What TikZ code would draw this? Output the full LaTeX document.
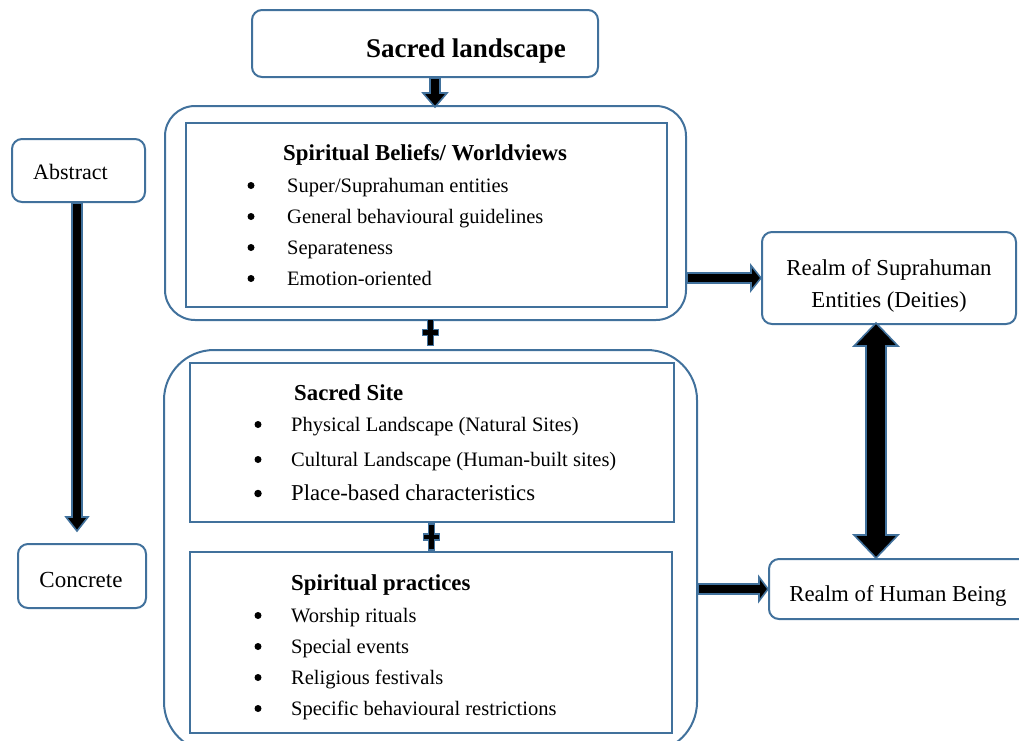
\documentclass[tikz,border=0pt]{standalone}
\usepackage{fontspec}
\setmainfont{Liberation Serif}
\usetikzlibrary{calc}
\definecolor{bc}{RGB}{65,113,156}
\newcommand\fsz[1]{\fontsize{#1}{#1}\selectfont}
\newcommand\blockarrow[5]{%
  \coordinate (ba-h) at ($(#2)!#5!(#1)$);
  \draw[blockst] ($(#1)!#3!90:(#2)$) -- ($(ba-h)!#3!90:(#2)$) -- ($(ba-h)!#4!90:(#2)$) -- (#2)
    -- ($(ba-h)!#4!-90:(#2)$) -- ($(ba-h)!#3!-90:(#2)$) -- ($(#1)!#3!-90:(#2)$) -- cycle;}
\newcommand\dblockarrow[5]{%
  \coordinate (da-a) at ($(#1)!#5!(#2)$);
  \coordinate (da-b) at ($(#2)!#5!(#1)$);
  \draw[blockst] (#1) -- ($(da-a)!#4!90:(#2)$) -- ($(da-a)!#3!90:(#2)$) -- ($(da-b)!#3!-90:(#1)$)
    -- ($(da-b)!#4!-90:(#1)$) -- (#2) -- ($(da-b)!#4!90:(#1)$) -- ($(da-b)!#3!90:(#1)$)
    -- ($(da-a)!#3!-90:(#2)$) -- ($(da-a)!#4!-90:(#2)$) -- cycle;}
\tikzset{
  box/.style={draw=bc, line width=2pt, rounded corners=#1, inner sep=0pt},
  box/.default=10pt,
  ibox/.style={draw=bc, line width=2pt, sharp corners, inner sep=0pt},
  blockst/.style={fill=black, draw=bc, line width=1.6pt, line join=miter},
  ttl/.style={anchor=base west, inner sep=0pt, font=\bfseries\fsz{22.8}},
  itm/.style={anchor=base west, inner sep=0pt, font=\fsz{20.5}},
  bul/.style={circle, fill=black, inner sep=0pt, minimum size=7pt, yshift=6.5pt},
  lbl/.style={anchor=base, inner sep=0pt, font=\fsz{22.8}},
}
\begin{document}
\begin{tikzpicture}[x=1pt,y=-1pt]
\useasboundingbox (0,0) rectangle (1019,740);
\clip (0,0) rectangle (1019,740);

% top box
\node[box, minimum width=346pt, minimum height=67pt] (top) at (425,43.5) {};
\node[anchor=base, inner sep=0pt, font=\bfseries\fsz{27}] (toptxt) at (466,57) {Sacred landscape};

% group 1
\node[box=30pt, minimum width=521pt, minimum height=214pt] (o1) at (425.5,213) {};
\node[ibox, minimum width=481pt, minimum height=184pt] (i1) at (426.5,215) {};
\node[ttl] (t1) at (283,160) {Spiritual Beliefs/ Worldviews};
\node[bul] (b11) at (251,192) {};
\node[bul] (b12) at (251,223) {};
\node[bul] (b13) at (251,254) {};
\node[bul] (b14) at (251,285) {};
\node[itm] (e11) at (287,192) {Super/Suprahuman entities};
\node[itm] (e12) at (287,223) {General behavioural guidelines};
\node[itm] (e13) at (287,254) {Separateness};
\node[itm] (e14) at (287,285) {Emotion-oriented};

% group 2
\node[box=50pt, minimum width=533pt, minimum height=402pt] (o2) at (430.5,551) {};
\node[ibox, minimum width=484pt, minimum height=159pt] (i2) at (432,442.5) {};
\node[ttl] (t2) at (294,400) {Sacred Site};
\node[bul] (b21) at (258,431) {};
\node[bul] (b22) at (258,466) {};
\node[bul, minimum size=7.5pt] (b23) at (258,500) {};
\node[itm] (e21) at (291,431) {Physical Landscape (Natural Sites)};
\node[itm] (e22) at (291,466) {Cultural Landscape (Human-built sites)};
\node[itm, font=\fsz{22.7}] (e23) at (291,500) {Place-based characteristics};

\node[ibox, minimum width=482pt, minimum height=181pt] (i3) at (431,642.5) {};
\node[ttl] (t3) at (291,590) {Spiritual practices};
\node[bul] (b31) at (258,622) {};
\node[bul] (b32) at (258,653) {};
\node[bul] (b33) at (258,684) {};
\node[bul] (b34) at (258,715) {};
\node[itm] (e31) at (291,622) {Worship rituals};
\node[itm] (e32) at (291,653) {Special events};
\node[itm] (e33) at (291,684) {Religious festivals};
\node[itm] (e34) at (291,715) {Specific behavioural restrictions};

% left boxes
\node[box, minimum width=133pt, minimum height=63pt] (abs) at (78.5,170.5) {};
\node[lbl, font=\fsz{22}] (abstxt) at (70.5,179) {Abstract};
\node[box, minimum width=128pt, minimum height=64pt] (conc) at (82,576) {};
\node[lbl, font=\fsz{23}] (conctxt) at (81,587) {Concrete};

% right boxes
\node[box, minimum width=254pt, minimum height=92pt] (rS) at (889,278) {};
\node[lbl] (rS1) at (889,275) {Realm of Suprahuman};
\node[lbl] (rS2) at (889,307) {Entities (Deities)};
\node[box, minimum width=261pt, minimum height=60pt] (rH) at (899.5,589) {};
\node[lbl] (rHt) at (898,601) {Realm of Human Being};

% arrows
\coordinate (a1s) at ([xshift=10pt]top.south);
\coordinate (a1e) at ([xshift=9.5pt,yshift=-2pt]o1.north);
\blockarrow{a1s}{a1e}{5pt}{12pt}{14pt}

\coordinate (a2s) at ($(abs.south)+(-1.5,0)$);
\coordinate (a2e) at ($(conc.north)+(-5,-12)$);
\blockarrow{a2s}{a2e}{5pt}{11pt}{14pt}

\coordinate (a3s) at (o1.east |- rS.west);
\blockarrow{a3s}{rS.west}{5pt}{12.5pt}{10pt}

\coordinate (a4s) at (o2.east |- rH.west);
\blockarrow{a4s}{rH.west}{5pt}{12pt}{9pt}

\coordinate (d1) at ([xshift=-13pt,yshift=2pt]rS.south);
\coordinate (d2) at (d1 |- rH.north);
\dblockarrow{d1}{d2}{10pt}{22pt}{23pt}

% plus signs
\coordinate (p1) at ($(o1.south)!0.4!(o2.north)+(3,0)$);
\coordinate (p2) at ($(i2.south)!0.5!(i3.north)$);
\foreach \p in {p1,p2}{
  \draw[blockst, line width=1.4pt, shift={(\p)}] (-3,-13) -- (3,-13) -- (3,-3) -- (8,-3) -- (8,3) -- (3,3) -- (3,13)
    -- (-3,13) -- (-3,3) -- (-8,3) -- (-8,-3) -- (-3,-3) -- cycle;
}
\end{tikzpicture}
\end{document}
